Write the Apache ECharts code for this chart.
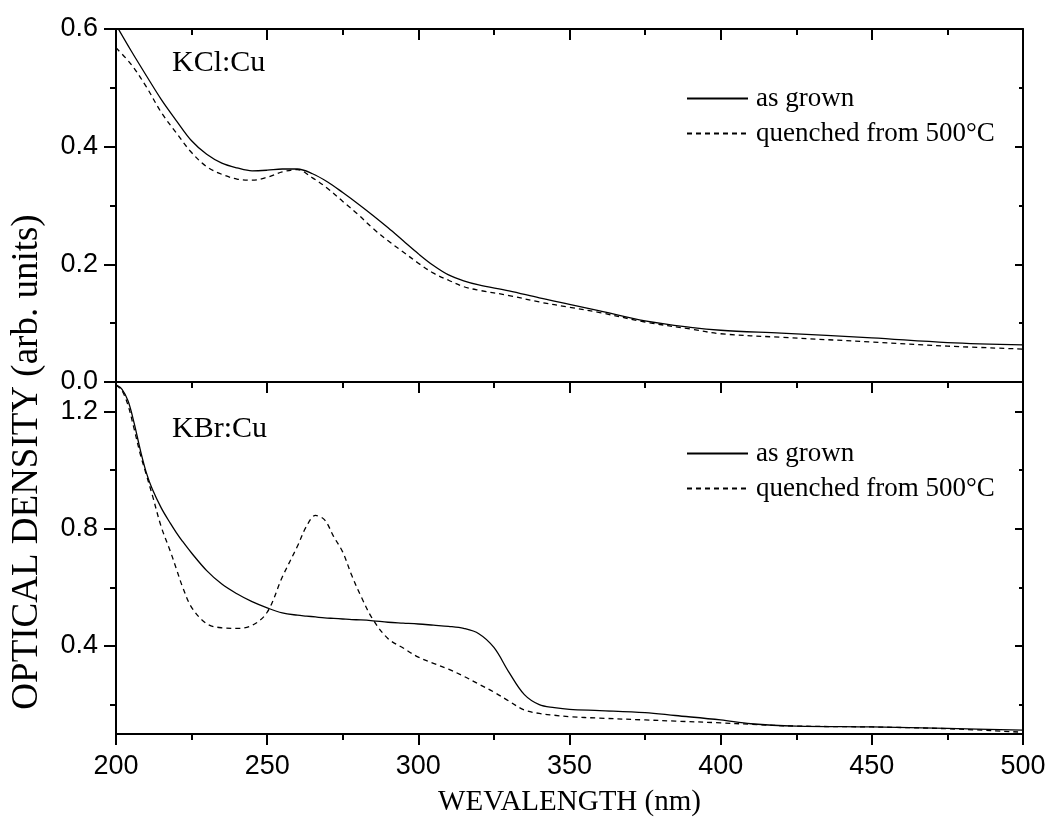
<!DOCTYPE html>
<html>
<head>
<meta charset="utf-8">
<script src="https://cdn.jsdelivr.net/npm/echarts@6/dist/echarts.min.js"></script>
<style>
  html, body { margin: 0; padding: 0; background: #fff; }
  #chart { width: 1052px; height: 829px; }
</style>
</head>
<body>
<div id="chart"></div>
<script>
// KCl:Cu panel
var kclWavelength = [200, 205, 210, 215, 220, 225, 230, 235, 240, 245, 250, 255, 260, 265, 270, 275, 280, 285, 290, 295,
  300, 305, 310, 315, 320, 330, 340, 350, 360, 375, 390, 400, 420, 450, 475, 500];
var kclGrown = [0.607, 0.563, 0.521, 0.480, 0.444, 0.410, 0.387, 0.372, 0.364, 0.359, 0.360, 0.362, 0.362, 0.354, 0.340, 0.322, 0.303, 0.283, 0.262, 0.240,
  0.218, 0.198, 0.182, 0.172, 0.165, 0.155, 0.143, 0.132, 0.121, 0.104, 0.093, 0.088, 0.083, 0.075, 0.067, 0.063];
var kclQuenched = [0.568, 0.540, 0.502, 0.458, 0.423, 0.390, 0.366, 0.353, 0.345, 0.343, 0.348, 0.357, 0.361, 0.347, 0.329, 0.307, 0.285, 0.261, 0.240, 0.221,
  0.202, 0.185, 0.173, 0.162, 0.156, 0.147, 0.136, 0.127, 0.118, 0.102, 0.090, 0.082, 0.076, 0.068, 0.061, 0.056];

// KBr:Cu panel
var kbrWavelength = [200, 202, 204, 206, 208, 210, 212, 215, 218, 220, 222, 225, 230, 235, 240, 245, 250, 255, 260, 263, 266, 269, 272, 275, 278, 281, 285, 290, 295,
  300, 305, 310, 315, 320, 325, 330, 335, 340, 345, 350, 360, 375, 385, 400, 410, 425, 450, 475, 500];
var kbrGrown = [1.290, 1.275, 1.235, 1.160, 1.070, 0.992, 0.935, 0.870, 0.818, 0.786, 0.757, 0.717, 0.657, 0.611, 0.578, 0.551, 0.530, 0.513, 0.505, 0.502, 0.499, 0.496, 0.494, 0.492, 0.490, 0.489, 0.486, 0.481, 0.478,
  0.475, 0.471, 0.467, 0.460, 0.442, 0.395, 0.310, 0.235, 0.200, 0.190, 0.184, 0.180, 0.173, 0.163, 0.148, 0.135, 0.127, 0.124, 0.119, 0.113];
var kbrQuenched = [1.290, 1.270, 1.220, 1.140, 1.055, 0.985, 0.915, 0.805, 0.722, 0.662, 0.602, 0.532, 0.476, 0.462, 0.460, 0.470, 0.515, 0.635, 0.740, 0.808, 0.845, 0.830, 0.773, 0.720, 0.640, 0.570, 0.490, 0.425, 0.393,
  0.362, 0.341, 0.321, 0.297, 0.270, 0.243, 0.212, 0.182, 0.170, 0.164, 0.159, 0.154, 0.148, 0.144, 0.138, 0.133, 0.127, 0.124, 0.118, 0.106];

var xTicks = { min: 200, max: 500, interval: 50 };
var kbrMajor = [0.4, 0.8, 1.2];
var kbrMinor = [0.2, 0.6, 1.0];

var seriesNames = ['as grown', 'quenched from 500°C'];

function pairs(xs, ys) {
  return xs.map(function (x, i) { return [x, ys[i]]; });
}

var black = '#000';
var serif = '"Liberation Serif", "Times New Roman", serif';
var sans = '"Liberation Sans", Arial, sans-serif';
var axisLine = { show: true, onZero: false, lineStyle: { color: black, width: 2 } };
var tickLabel = { fontFamily: sans, fontSize: 27, color: black };

function xAxisCfg(grid, pos, opts) {
  return Object.assign({
    type: 'value', gridIndex: grid, position: pos,
    min: xTicks.min, max: xTicks.max, interval: xTicks.interval,
    axisLine: axisLine,
    axisTick: { show: true, inside: false, length: 11, lineStyle: { color: black, width: 2 } },
    minorTick: { show: true, splitNumber: 2, length: 6, lineStyle: { color: black, width: 2 } },
    axisLabel: { show: false },
    splitLine: { show: false },
    minorSplitLine: { show: false }
  }, opts || {});
}

var chart = echarts.init(document.getElementById('chart'));

var lineGrown = { color: black, width: 1.3, type: 'solid' };
var lineQuenched = { color: black, width: 1.3, type: [5, 4] };

function makeLine(name, x, y, data, style) {
  return {
    name: name, type: 'line', xAxisIndex: x, yAxisIndex: y,
    data: data, symbol: 'none', smooth: 0.35, clip: true,
    lineStyle: style, itemStyle: { color: black },
    animation: false
  };
}

function legendCfg(top) {
  return {
    data: seriesNames, orient: 'vertical', left: 686, top: top, padding: 0,
    itemWidth: 61, itemHeight: 14, itemGap: 8, selectedMode: false,
    itemStyle: { color: 'rgba(0,0,0,0)', borderWidth: 0, opacity: 0 },
    textStyle: { fontFamily: serif, fontSize: 27, color: black, lineHeight: 26, padding: [0, 0, 0, 3] }
  };
}

chart.setOption({
  animation: false,
  backgroundColor: '#fff',
  grid: [
    { left: 116, right: 29, top: 29, height: 353 },
    { left: 116, right: 29, top: 382, height: 352 }
  ],
  legend: [legendCfg(85), legendCfg(440)],
  xAxis: [
    xAxisCfg(0, 'bottom'),
    xAxisCfg(0, 'top', {
      axisTick: { show: true, inside: true, length: 11, lineStyle: { color: black, width: 2 } },
      minorTick: { show: true, splitNumber: 2, length: 6, lineStyle: { color: black, width: 2 } }
    }),
    xAxisCfg(1, 'bottom', {
      axisLabel: Object.assign({ show: true, margin: 19 }, tickLabel),
      name: 'WEVALENGTH (nm)', nameLocation: 'middle', nameGap: 54,
      nameTextStyle: { fontFamily: serif, fontSize: 29, color: black }
    })
  ],
  yAxis: [
    {
      type: 'value', gridIndex: 0, position: 'left', min: 0, max: 0.6, interval: 0.2,
      axisLine: axisLine,
      axisTick: { show: true, length: 12, lineStyle: { color: black, width: 2 } },
      minorTick: { show: true, splitNumber: 2, length: 6, lineStyle: { color: black, width: 2 } },
      axisLabel: Object.assign({ margin: 18, formatter: function (v) { return v.toFixed(1); } }, tickLabel),
      splitLine: { show: false }
    },
    {
      type: 'value', gridIndex: 0, position: 'right', min: 0, max: 0.6, interval: 0.2,
      axisLine: axisLine,
      axisTick: { show: true, inside: true, length: 8, lineStyle: { color: black, width: 2 } },
      minorTick: { show: true, splitNumber: 2, length: 4, lineStyle: { color: black, width: 2 } },
      axisLabel: { show: false },
      splitLine: { show: false }
    },
    {
      type: 'value', gridIndex: 1, position: 'left', min: 0.1, max: 1.3,
      axisLine: axisLine,
      axisTick: { show: true, length: 12, customValues: kbrMajor, lineStyle: { color: black, width: 2 } },
      axisLabel: Object.assign({ margin: 18, customValues: kbrMajor, formatter: function (v) { return v.toFixed(1); } }, tickLabel),
      splitLine: { show: false }
    },
    {
      type: 'value', gridIndex: 1, position: 'left', min: 0.1, max: 1.3,
      axisLine: { show: false },
      axisTick: { show: true, length: 6, customValues: kbrMinor, lineStyle: { color: black, width: 2 } },
      axisLabel: { show: false },
      splitLine: { show: false }
    },
    {
      type: 'value', gridIndex: 1, position: 'right', min: 0.1, max: 1.3,
      axisLine: axisLine,
      axisTick: { show: true, inside: true, length: 8, customValues: kbrMajor, lineStyle: { color: black, width: 2 } },
      axisLabel: { show: false },
      splitLine: { show: false }
    },
    {
      type: 'value', gridIndex: 1, position: 'right', min: 0.1, max: 1.3,
      axisLine: { show: false },
      axisTick: { show: true, inside: true, length: 4, customValues: kbrMinor, lineStyle: { color: black, width: 2 } },
      axisLabel: { show: false },
      splitLine: { show: false }
    }
  ],
  graphic: [
    {
      type: 'text', left: 172, top: 48,
      style: { text: 'KCl:Cu', fontFamily: serif, fontSize: 30, fill: black }
    },
    {
      type: 'text', left: 172, top: 414,
      style: { text: 'KBr:Cu', fontFamily: serif, fontSize: 30, fill: black }
    },
    {
      type: 'text', x: 27, y: 462, rotation: Math.PI / 2,
      style: { text: 'OPTICAL DENSITY (arb. units)', fontFamily: serif, fontSize: 37, fill: black, align: 'center', verticalAlign: 'middle' }
    }
  ],
  series: [
    makeLine(seriesNames[0], 0, 0, pairs(kclWavelength, kclGrown), lineGrown),
    makeLine(seriesNames[1], 0, 0, pairs(kclWavelength, kclQuenched), lineQuenched),
    makeLine(seriesNames[0], 2, 2, pairs(kbrWavelength, kbrGrown), lineGrown),
    makeLine(seriesNames[1], 2, 2, pairs(kbrWavelength, kbrQuenched), lineQuenched)
  ]
});
</script>
</body>
</html>
